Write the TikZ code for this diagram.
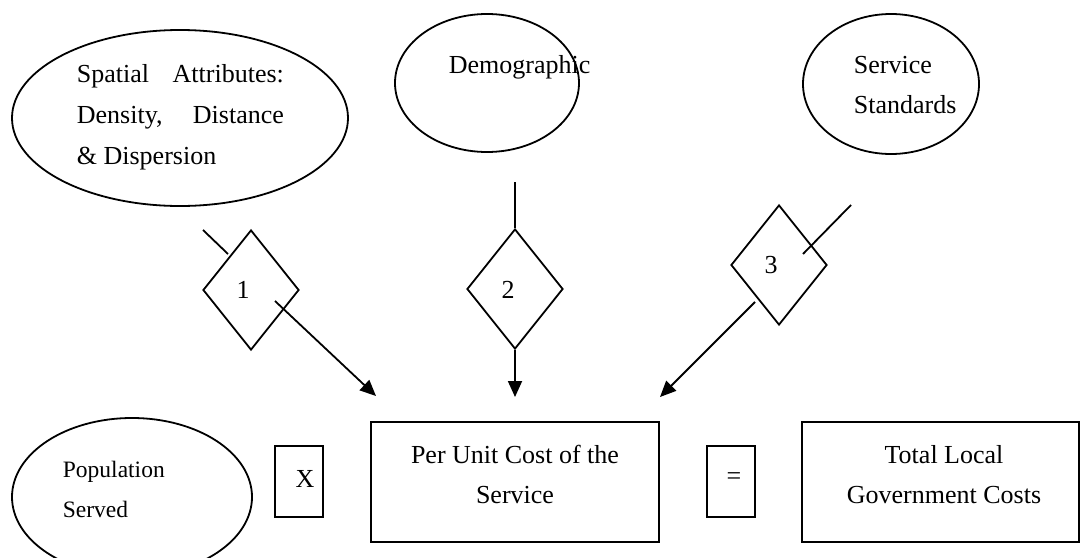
\documentclass[tikz,border=0pt]{standalone}
\usepackage{fontspec}
\setmainfont{Liberation Serif}
\usetikzlibrary{shapes.geometric,arrows.meta}
\begin{document}
\begin{tikzpicture}[x=1pt,y=-1pt,line width=1.8pt,
  txt/.style={font=\fontsize{26}{40}\selectfont,inner sep=0pt},
  smalltxt/.style={font=\fontsize{23.5}{40}\selectfont,inner sep=0pt},
  oval/.style={draw,ellipse,inner sep=0pt},
  dia/.style={draw,diamond,inner sep=0pt,minimum width=96pt,minimum height=120pt},
  box/.style={draw,rectangle,inner sep=0pt},
  arr/.style={-{Triangle[length=16pt,width=14pt]}}]
\useasboundingbox (0,0) rectangle (1081,557);
\clip (0,0) rectangle (1081,557);
% top ellipses
\node[oval,minimum width=336pt,minimum height=176pt] (e1) at (180,118) {};
\node[txt,anchor=base west] (t1a) at (76,82) {\makebox[207pt][s]{Spatial Attributes:}};
\node[txt,anchor=base west] (t1b) at (76,123) {\makebox[207pt][s]{Density, Distance}};
\node[txt,anchor=base west] (t1c) at (76,164) {\& Dispersion};
\node[oval,minimum width=184pt,minimum height=138pt] (e2) at (487,83) {};
\node[txt,anchor=base west] (t2) at (448,73) {Demographic};
\node[oval,minimum width=176pt,minimum height=140pt] (e3) at (891,84) {};
\node[txt,anchor=base west] (t3a) at (853,73) {Service};
\node[txt,anchor=base west] (t3b) at (853,113) {Standards};
% diamonds
\node[dia] (d1) at (251,290) {};
\node[txt] (n1) at (243,290) {1};
\node[dia] (d2) at (515,289) {};
\node[txt] (n2) at (508,290) {2};
\node[dia] (d3) at (779,265) {};
\node[txt] (n3) at (771,265) {3};
% bottom row
\node[oval,minimum width=240pt,minimum height=158pt] (pop) at (132,497) {};
\node[smalltxt,anchor=base west] (tpa) at (62,477) {Population};
\node[smalltxt,anchor=base west] (tpb) at (62,517) {Served};
\node[box,minimum width=48pt,minimum height=71pt] (xb) at (299,481.5) {};
\node[txt] (xt) at (305,479) {X};
\node[box,minimum width=288pt,minimum height=120pt] (pu) at (515,482) {};
\node[txt,anchor=base] (pua) at (515,463) {Per Unit Cost of the};
\node[txt,anchor=base] (pub) at (515,503) {Service};
\node[box,minimum width=48pt,minimum height=71pt] (eqb) at (731,481.5) {};
\node[txt] (eqt) at (734,479) {=};
\node[box,minimum width=277pt,minimum height=120pt] (tot) at (940.5,482) {};
\node[txt,anchor=base] (tota) at (944,463) {Total Local};
\node[txt,anchor=base] (totb) at (944,503) {Government Costs};
% connectors
\coordinate (c1a) at (203,230);
\coordinate (c1b) at (228,254);
\coordinate (c1c) at (275,301);
\coordinate (c1d) at (376,396);
\draw (c1a) -- (c1b);
\draw[arr] (c1c) -- (c1d);
\coordinate (c2a) at (515,182);
\draw (c2a) -- (d2.north);
\coordinate (c2d) at (515,397);
\draw[arr] (d2.south) -- (c2d);
\coordinate (c3a) at (851,205);
\coordinate (c3b) at (803,254);
\coordinate (c3c) at (755,302);
\coordinate (c3d) at (660,397);
\draw (c3a) -- (c3b);
\draw[arr] (c3c) -- (c3d);
\end{tikzpicture}
\end{document}
